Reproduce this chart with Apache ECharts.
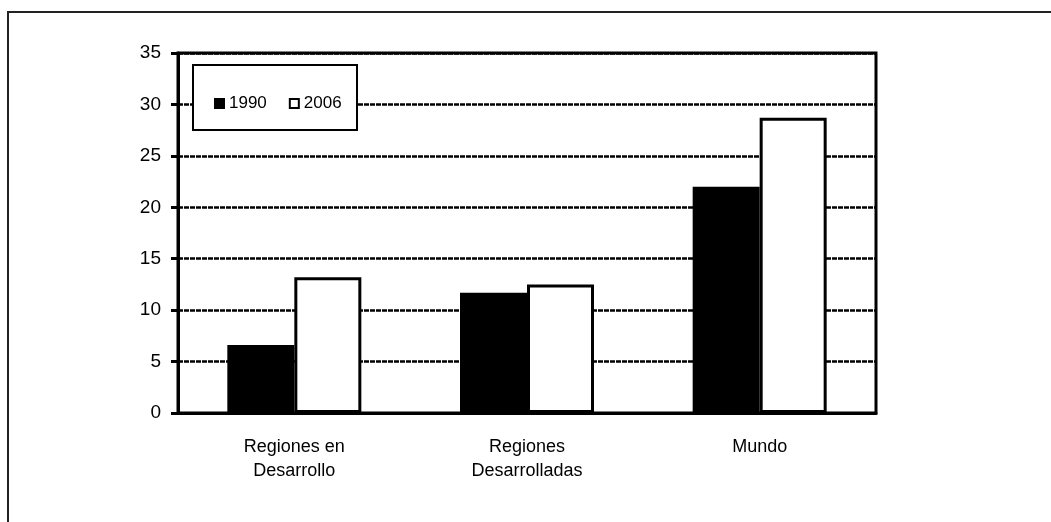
<!DOCTYPE html>
<html>
<head>
<meta charset="utf-8">
<script src="https://cdn.jsdelivr.net/npm/echarts@6/dist/echarts.min.js"></script>
<style>
  html, body { margin: 0; padding: 0; background: #fff; }
  #chart { width: 1051px; height: 522px; }
</style>
</head>
<body>
<div id="chart"></div>
<script>
// datos
var categorias = ['Regiones en\nDesarrollo', 'Regiones\nDesarrolladas', 'Mundo'];
var serie1990 = [6.6, 11.7, 22.0];
var serie2006 = [13.2, 12.5, 28.7];
var anios = ['1990', '2006'];

var chart = echarts.init(document.getElementById('chart'));

var option = {
    animation: false,
    backgroundColor: '#fff',
    textStyle: { fontFamily: 'Liberation Sans, Arial, sans-serif' },
    graphic: [
        // titulo cortado arriba (solo asoma el final de los parentesis)
        { type: 'text', left: 329, top: -22,
          style: { text: '(', font: '18px Liberation Sans', fill: '#000' } },
        { type: 'text', left: 734, top: -22,
          style: { text: ')', font: '18px Liberation Sans', fill: '#000' } },
        // marco exterior
        { type: 'rect', shape: { x: 8, y: 12, width: 1060, height: 530 },
          style: { fill: 'none', stroke: '#222', lineWidth: 2 } },
        // caja de la leyenda
        { type: 'rect', z: 10, shape: { x: 193, y: 65, width: 164, height: 65 },
          style: { fill: '#fff', stroke: '#000', lineWidth: 2 } }
    ],
    legend: {
        data: anios,
        left: 209,
        top: 90,
        z: 20,
        itemWidth: 9,
        itemHeight: 9,
        itemGap: 22,
        icon: 'rect',
        textStyle: { fontSize: 17, color: '#000' }
    },
    grid: {
        left: 178, top: 53, width: 698, height: 360,
        show: true, borderColor: '#000', borderWidth: 3,
        containLabel: false
    },
    xAxis: {
        type: 'category',
        data: categorias,
        axisLine: { lineStyle: { color: '#000', width: 3 } },
        axisTick: { show: false },
        axisLabel: { color: '#000', fontSize: 18, lineHeight: 24, margin: 22 }
    },
    yAxis: {
        type: 'value',
        min: 0, max: 35, interval: 5,
        axisLine: { show: true, lineStyle: { color: '#000', width: 3 } },
        axisTick: { show: true, length: 7, lineStyle: { color: '#000', width: 3 } },
        axisLabel: { color: '#000', fontSize: 19, margin: 17 },
        splitLine: { lineStyle: { color: '#000', width: 2.5, type: [5, 1] } }
    },
    series: [
        {
            name: anios[0], type: 'bar', data: serie1990,
            barWidth: 67, barGap: '0%',
            itemStyle: { color: '#000', borderColor: '#000', borderWidth: 2 }
        },
        {
            name: anios[1], type: 'bar', data: serie2006,
            barWidth: 67,
            itemStyle: { color: '#fff', borderColor: '#000', borderWidth: 3 }
        }
    ]
};

chart.setOption(option);
</script>
</body>
</html>
